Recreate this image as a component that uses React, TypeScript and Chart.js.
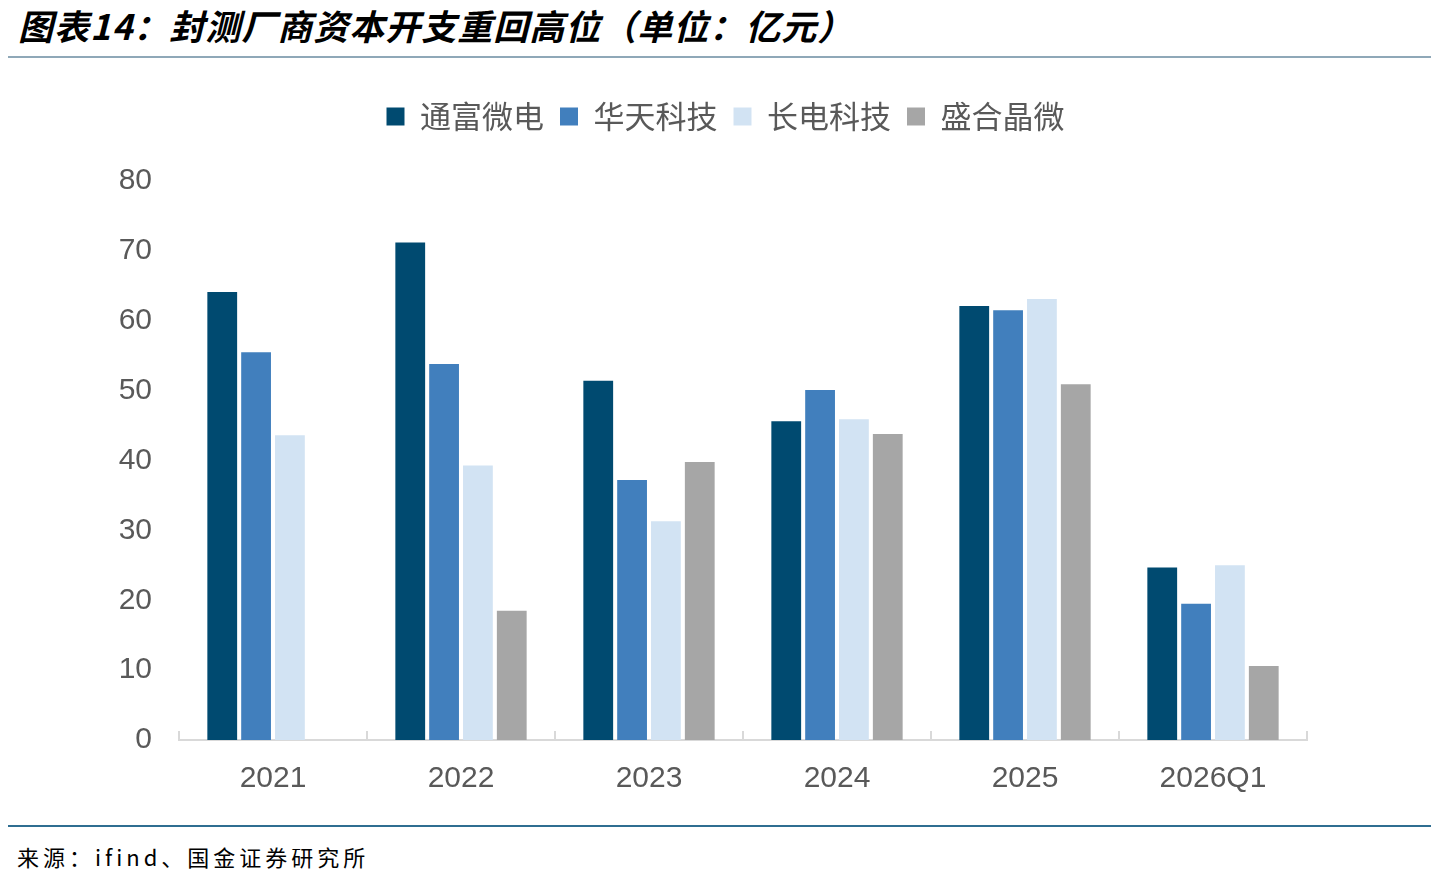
import React, { useEffect, useRef } from 'react';
import { Chart, registerables } from 'chart.js';

Chart.register(...registerables);

const years = ['2021', '2022', '2023', '2024', '2025', '2026Q1'];
const tongfu = [64.1, 71.2, 51.4, 45.6, 62.1, 24.7];
const huatian = [55.5, 53.8, 37.2, 50.1, 61.5, 19.5];
const changdian = [43.6, 39.3, 31.3, 45.9, 63.1, 25.0];
const shenghe = [null, 18.5, 39.8, 43.8, 50.9, 10.6];
const yTicks = [0, 10, 20, 30, 40, 50, 60, 70, 80];

// small upward tick marks at the category boundaries
const upTicks = {
  id: 'upTicks',
  afterDraw(chart: any) {
    const x = chart.scales.x;
    const { ctx, chartArea } = chart;
    const step = x.getPixelForValue(1) - x.getPixelForValue(0);
    ctx.save();
    ctx.strokeStyle = '#d9d9d9';
    ctx.lineWidth = 2;
    for (let i = 0; i <= years.length; i++) {
      const px = Math.round(x.getPixelForValue(0) - step / 2 + i * step);
      ctx.beginPath();
      ctx.moveTo(px, chartArea.bottom);
      ctx.lineTo(px, chartArea.bottom - 9);
      ctx.stroke();
    }
    ctx.restore();
  },
};

// extra room between legend and plot, legend centred a bit to the right
const legendGap = {
  id: 'legendGap',
  beforeInit(chart: any) {
    const fit = chart.legend.fit;
    chart.legend.fit = function () {
      fit.bind(chart.legend)();
      this.height += 39;
    };
  },
  afterLayout(chart: any) {
    chart.legend.left = 144;
  },
};

function App() {
  const chartRef = useRef<HTMLCanvasElement>(null);

  useEffect(() => {
    document.body.style.margin = '0';
    if (!chartRef.current) return;
    const chart = new Chart(chartRef.current, {
      type: 'bar',
      data: {
        labels: years,
        datasets: [
          { label: '通富微电', data: tongfu, backgroundColor: '#004A70' },
          { label: '华天科技', data: huatian, backgroundColor: '#417FBD' },
          { label: '长电科技', data: changdian, backgroundColor: '#D2E3F3' },
          { label: '盛合晶微', data: shenghe, backgroundColor: '#A6A6A6' },
        ],
      },
      options: {
        animation: false,
        responsive: false,
        maintainAspectRatio: false,
        layout: { padding: { left: 0, right: 124, top: 25, bottom: 0 } },
        datasets: { bar: { categoryPercentage: 0.72, barPercentage: 0.88 } },
        plugins: {
          tooltip: { enabled: false },
          legend: {
            position: 'top',
            labels: {
              boxWidth: 18,
              boxHeight: 18,
              padding: 16,
              color: '#595959',
              font: { family: '"Noto Sans CJK SC", sans-serif', size: 31 },
            },
          },
        },
        scales: {
          x: {
            grid: { display: false },
            border: { display: true, color: '#d9d9d9', width: 2 },
            ticks: {
              color: '#595959',
              padding: 13,
              font: { family: '"Liberation Sans", Arial, sans-serif', size: 30 },
            },
            afterFit: (s: any) => { s.height = 75; },
          },
          y: {
            min: 0,
            max: 80,
            afterBuildTicks: (s: any) => { s.ticks = yTicks.map((v) => ({ value: v })); },
            grid: { display: false },
            border: { display: false },
            ticks: {
              color: '#595959',
              padding: 19,
              font: { family: '"Liberation Sans", Arial, sans-serif', size: 30 },
            },
            afterFit: (s: any) => { s.width = 179; },
          },
        },
      },
      plugins: [upTicks, legendGap],
    });
    return () => {
      chart.destroy();
    };
  }, []);

  return (
    <div style={{ position: 'relative', width: 1431, height: 879, background: '#fff', overflow: 'hidden' }}>
      <div
        style={{
          position: 'absolute',
          left: 18,
          top: -1,
          fontFamily: '"Noto Sans CJK SC", sans-serif',
          fontStyle: 'italic',
          fontWeight: 'bold',
          fontSize: 35,
          letterSpacing: 1,
          color: '#000',
          whiteSpace: 'nowrap',
        }}
      >
        图表14：封测厂商资本开支重回高位（单位：亿元）
      </div>
      <div style={{ position: 'absolute', left: 8, top: 56, width: 1423, height: 2, background: '#8FA8B8' }} />
      <canvas
        ref={chartRef}
        width={1431}
        height={755}
        style={{ position: 'absolute', left: 0, top: 60, width: 1431, height: 755 }}
      ></canvas>
      <div style={{ position: 'absolute', left: 8, top: 825, width: 1423, height: 2, background: '#2F6E91' }} />
      <div
        style={{
          position: 'absolute',
          left: 17,
          top: 840,
          fontFamily: '"Noto Sans CJK SC", sans-serif',
          fontSize: 22,
          letterSpacing: 4,
          color: '#000',
          whiteSpace: 'nowrap',
        }}
      >
        来源：ifind、国金证券研究所
      </div>
    </div>
  );
}

export default App;
